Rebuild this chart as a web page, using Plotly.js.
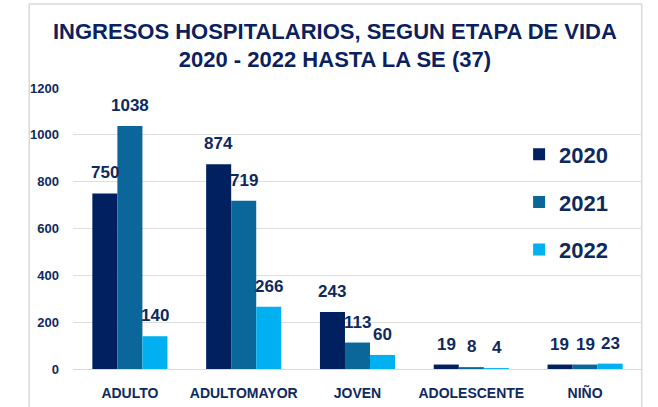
<!DOCTYPE html>
<html><head><meta charset="utf-8">
<script src="https://cdn.plot.ly/plotly-3.0.1.min.js"></script>
<style>html,body{margin:0;padding:0;background:#fff}#chart{width:658px;height:407px}</style>
</head><body><div id="chart"></div>
<script>
const categories = ["ADULTO", "ADULTOMAYOR", "JOVEN", "ADOLESCENTE", "NIÑO"];
const years = ["2020", "2021", "2022"];
const v2020 = [750, 874, 243, 19, 19];
const v2021 = [1038, 719, 113, 8, 19];
const v2022 = [140, 266, 60, 4, 23];
const colors = ["#002060", "#0b6699", "#00b0f0"];
const navy = "#0e2a5c";
const FONT = "Liberation Sans, Arial, sans-serif";

const series = [v2020, v2021, v2022];
const traces = series.map((vals, i) => ({
  type: "bar",
  name: years[i],
  x: categories,
  y: vals,
  marker: {color: colors[i]},
  legendgroup: "g" + i,
  hoverinfo: "x+y+name"
}));

// value labels above each bar, built from the data arrays
const annotations = [];
series.forEach((vals, i) => {
  vals.forEach((v, j) => {
    annotations.push({
      x: categories[j], y: v, xref: "x", yref: "y",
      text: String(v), showarrow: false,
      xanchor: "center", yanchor: "bottom",
      xshift: (i - 1) * 25.3, yshift: 9,
      font: {family: FONT, size: 17, color: navy, weight: "bold"}
    });
  });
});

const layout = {
  width: 658, height: 407,
  margin: {l: 73, r: 16, t: 88, b: 38},
  paper_bgcolor: "#ffffff", plot_bgcolor: "#ffffff",
  barmode: "group", bargap: 0.34, bargroupgap: 0,
  showlegend: true,
  legend: {
    x: 0.784, y: 0.838, xanchor: "left", yanchor: "top",
    traceorder: "grouped", tracegroupgap: 16,
    font: {family: FONT, size: 22, color: navy, weight: "bold"},
    bgcolor: "rgba(0,0,0,0)"
  },
  title: {
    text: "INGRESOS HOSPITALARIOS, SEGUN ETAPA DE VIDA<br>2020 - 2022 HASTA LA SE (37)",
    font: {family: FONT, size: 22, color: "#0c1f5e", weight: "bold"},
    x: 0.509, xanchor: "center", y: 0.905, yanchor: "middle"
  },
  xaxis: {
    type: "category",
    tickfont: {family: FONT, size: 14, color: navy, weight: "bold"},
    showline: false, ticks: "", showgrid: false, ticklabelstandoff: 14
  },
  yaxis: {
    range: [0, 1200], dtick: 200,
    tickfont: {family: FONT, size: 13, color: navy, weight: "bold"},
    gridcolor: "#dedede", gridwidth: 1,
    zeroline: true, zerolinecolor: "#d9d9d9", zerolinewidth: 1,
    showline: false, ticks: "", ticklabelstandoff: 13
  },
  annotations: annotations,
  shapes: [{
    type: "rect", xref: "paper", yref: "paper",
    x0: -0.077, x1: 0.9995, y0: -0.3, y1: 1.299,
    line: {color: "#d9d9d9", width: 1.5}, fillcolor: "rgba(0,0,0,0)", layer: "below"
  }]
};

Plotly.newPlot("chart", traces, layout, {displayModeBar: false, staticPlot: true});
</script></body></html>
